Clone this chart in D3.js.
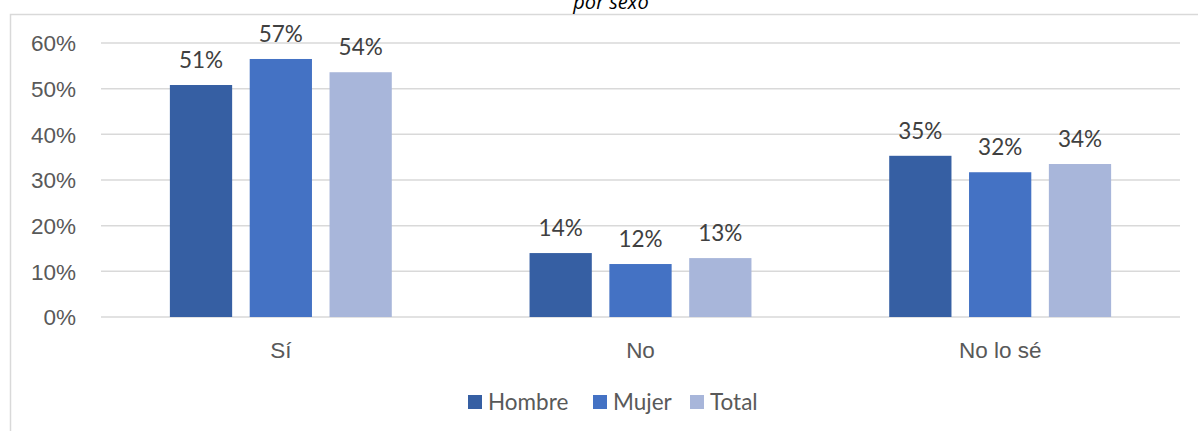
<!DOCTYPE html>
<html lang="es">
<head>
<meta charset="utf-8">
<title>por sexo</title>
<script src="https://cdn.jsdelivr.net/npm/d3@7"></script>
<style>
  body { margin: 0; background: #fff; }
  svg { display: block; font-family: Lato, "Open Sans", sans-serif; }
  .grid line { stroke: #d9d9d9; stroke-width: 1.5; }
  .tick text { fill: #595959; font-size: 22.5px; }
</style>
</head>
<body>
<script>
// data
const categories = ["Sí", "No", "No lo sé"];
const seriesNames = ["Hombre", "Mujer", "Total"];
const hombre = [0.508, 0.140, 0.353];
const mujer = [0.565, 0.116, 0.317];
const total = [0.536, 0.129, 0.335];
const labelsHombre = ["51%", "14%", "35%"];
const labelsMujer = ["57%", "12%", "32%"];
const labelsTotal = ["54%", "13%", "34%"];
const yTicks = [0, 0.1, 0.2, 0.3, 0.4, 0.5, 0.6];
const colors = ["#365fa3", "#4472c4", "#a8b6da"];

const width = 1198, height = 431;
const margin = {top: 43, right: 18, bottom: 114, left: 101};

const svg = d3.select("body").append("svg")
  .attr("width", width)
  .attr("height", height);

// chart border (only left and top show in the crop)
svg.append("rect")
  .attr("x", 10.5).attr("y", 14.5)
  .attr("width", 1300).attr("height", 600)
  .attr("fill", "none")
  .attr("stroke", "#d9d9d9")
  .attr("stroke-width", 1.5);

// title, cut off at the top like the reference
svg.append("text")
  .attr("x", 611).attr("y", 9)
  .attr("text-anchor", "middle")
  .style("font-family", "'Open Sans', sans-serif")
  .style("font-style", "italic")
  .style("font-size", "20px")
  .attr("fill", "#000")
  .text("por sexo");

const x = d3.scaleBand()
  .domain(categories)
  .range([margin.left, width - margin.right]);

const y = d3.scaleLinear()
  .domain([0, 0.6])
  .range([height - margin.bottom, margin.top]);

// groups are ~222px wide in a ~360px band
const x1 = d3.scaleBand()
  .domain(seriesNames)
  .range([0, x.bandwidth() * 0.617])
  .paddingInner(0.22);
const groupOffset = x.bandwidth() * (1 - 0.617) / 2;

// gridlines
svg.append("g")
  .attr("class", "grid")
  .selectAll("line")
  .data(yTicks)
  .join("line")
  .attr("x1", margin.left)
  .attr("x2", width - margin.right)
  .attr("y1", d => y(d))
  .attr("y2", d => y(d));

// y axis labels
const yAxis = svg.append("g")
  .attr("transform", `translate(${margin.left - 22},0)`)
  .call(d3.axisLeft(y).tickValues(yTicks).tickFormat(d3.format(".0%")).tickSize(0));
yAxis.select(".domain").remove();
yAxis.selectAll("text").attr("dy", "0.35em");

// x axis labels
const xAxis = svg.append("g")
  .attr("transform", `translate(0,${height - margin.bottom + 22})`)
  .call(d3.axisBottom(x).tickSize(0));
xAxis.select(".domain").remove();
xAxis.selectAll("text").attr("dy", "0.72em");

const series = [
  {name: "Hombre", values: hombre, labels: labelsHombre},
  {name: "Mujer", values: mujer, labels: labelsMujer},
  {name: "Total", values: total, labels: labelsTotal}
];

const color = d3.scaleOrdinal().domain(seriesNames).range(colors);

const groups = svg.append("g")
  .selectAll("g")
  .data(categories)
  .join("g")
  .attr("transform", d => `translate(${x(d) + groupOffset},0)`);

const cells = (c, i) => series.map(s => ({name: s.name, v: s.values[i], label: s.labels[i]}));

groups.selectAll("rect")
  .data(cells)
  .join("rect")
  .attr("x", d => x1(d.name))
  .attr("width", x1.bandwidth())
  .attr("y", d => y(d.v))
  .attr("height", d => y(0) - y(d.v))
  .attr("fill", d => color(d.name));

groups.selectAll("text")
  .data(cells)
  .join("text")
  .attr("x", d => x1(d.name) + x1.bandwidth() / 2)
  .attr("y", d => y(d.v) - 17)
  .attr("text-anchor", "middle")
  .attr("fill", "#404040")
  .style("font-size", "22.5px")
  .text(d => d.label);

// legend
const legendX = [468, 593, 690];
const legend = svg.append("g")
  .selectAll("g")
  .data(seriesNames)
  .join("g")
  .attr("transform", (d, i) => `translate(${legendX[i]},395)`);

legend.append("rect")
  .attr("width", 14).attr("height", 14)
  .attr("fill", d => color(d));

legend.append("text")
  .attr("x", 20).attr("y", 7)
  .attr("dy", "0.35em")
  .attr("fill", "#595959")
  .style("font-size", "22.5px")
  .text(d => d);
</script>
</body>
</html>
